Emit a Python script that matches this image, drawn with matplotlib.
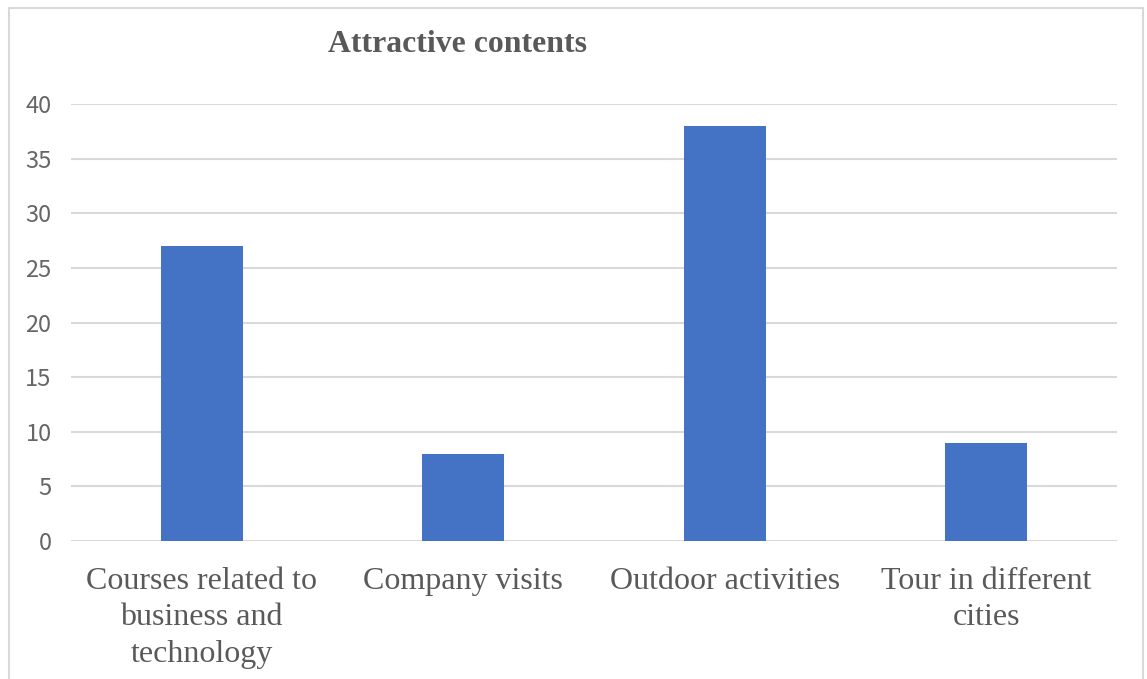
import matplotlib.pyplot as plt
from matplotlib.patches import Rectangle

categories = ["Courses related to\nbusiness and\ntechnology", "Company visits",
              "Outdoor activities", "Tour in different\ncities"]
counts = [27, 8, 38, 9]
yticks = [0, 5, 10, 15, 20, 25, 30, 35, 40]

fig = plt.figure(figsize=(11.47, 6.79), dpi=100)
ax = fig.add_axes([0.0619, 0.2032, 0.9119, 0.6436])

# light frame round the whole chart
frame = Rectangle((9 / 1147, -0.1), 1134 / 1147, 1.1 - 8 / 679,
                  transform=fig.transFigure, fill=False,
                  edgecolor="#d9d9d9", linewidth=1.5, clip_on=False)
fig.patches.append(frame)

x = range(len(categories))
ax.bar(x, counts, width=0.314, color="#4472C4", zorder=3)

ax.set_xlim(-0.5, len(categories) - 0.5)
ax.set_ylim(0, 40)
ax.set_yticks(yticks)
ax.yaxis.grid(True, color="#d9d9d9", linewidth=1.5, zorder=0)
ax.set_axisbelow(True)
for s in ax.spines.values():
    s.set_visible(False)

ax.tick_params(axis="y", length=0, pad=14, labelsize=17, labelcolor="#666666")
ax.tick_params(axis="x", length=0, pad=18.5)
for lbl in ax.get_yticklabels():
    lbl.set_fontfamily("Noto Sans CJK SC")
    lbl.set_fontweight("light")

ax.set_xticks(list(x))
ax.set_xticklabels(categories, fontsize=23, color="#595959",
                   fontfamily="Liberation Serif", linespacing=1.34)

fig.text(457 / 1147, 1 - 45 / 679, "Attractive contents", ha="center", va="center",
         fontsize=22.9, fontweight="bold", color="#595959", fontfamily="Liberation Serif")

fig.savefig("out.png", dpi=100)
